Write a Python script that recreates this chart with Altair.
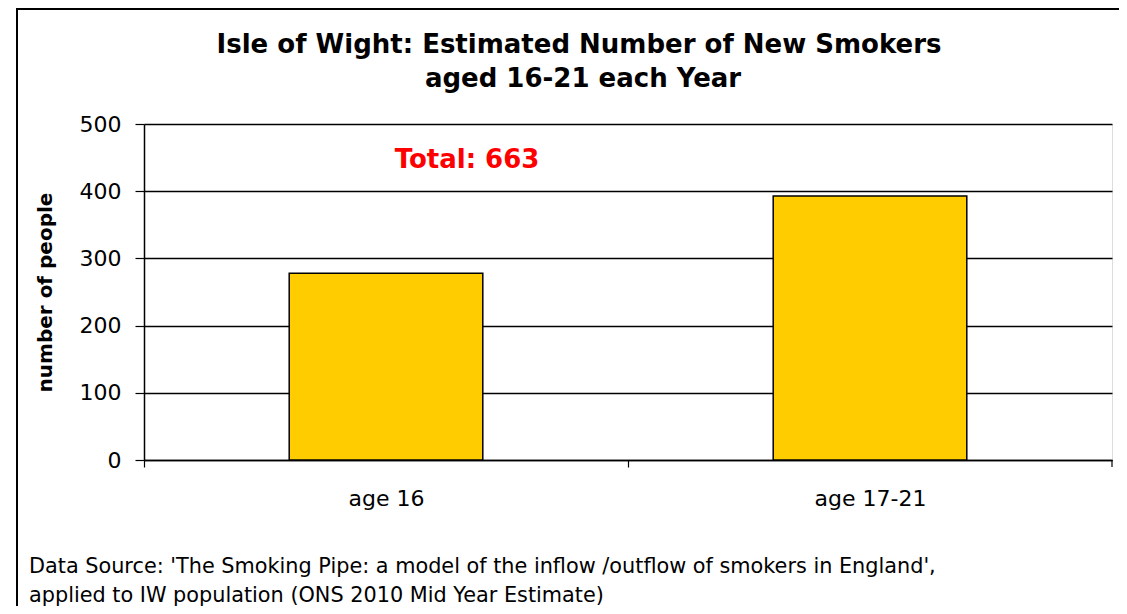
import altair as alt
import pandas as pd

categories = ["age 16", "age 17-21"]
values = [278, 393]
y_ticks = [0, 100, 200, 300, 400, 500]
title_lines = ["Isle of Wight: Estimated Number of New Smokers", "aged 16-21 each Year"]
total_label = "Total: 663"
source_lines = [
    "Data Source: 'The Smoking Pipe: a model of the inflow /outflow  of smokers in England',",
    "applied to IW population (ONS 2010 Mid Year Estimate)",
]

df = pd.DataFrame({"category": categories, "value": values})
one = pd.DataFrame({"a": [0]})

W, H = 968, 336
STEP = W / 2

bars = alt.Chart(df).mark_bar(color="#FFCC00", stroke="black", strokeWidth=1.5).encode(
    x=alt.X("category:N", sort=categories,
            scale=alt.Scale(paddingInner=0.6, paddingOuter=0.3),
            axis=alt.Axis(title=None, labelAngle=0, labelFont="DejaVu Sans", labelFontSize=22,
                          labelColor="black", labelPadding=21, tickOffset=-STEP / 2,
                          labelOffset=STEP / 2, tickSize=7,
                          tickColor="black", domainColor="black", domainWidth=1.5, tickWidth=1.2,
                          grid=False)),
    y=alt.Y("value:Q", scale=alt.Scale(domain=[0, 500], nice=False),
            axis=alt.Axis(values=y_ticks, title="number of people", titleFont="DejaVu Sans",
                          titleFontWeight="bold", titleFontSize=20, titleColor="black",
                          titlePadding=24, labelFont="DejaVu Sans", labelFontSize=22,
                          labelColor="black", labelPadding=14, tickSize=9, tickColor="black",
                          tickWidth=1.2, domainColor="black", domainWidth=1.5,
                          grid=True, gridColor="black", gridWidth=1.3)),
)

end_tick = alt.Chart(one).mark_rule(color="black", strokeWidth=1.2).encode(
    x=alt.value(W), y=alt.value(H), y2=alt.value(H + 7)
)

frame = alt.Chart(one).mark_rect(fill=None, stroke="black", strokeWidth=2).encode(
    x=alt.value(-127), x2=alt.value(1000), y=alt.value(-115), y2=alt.value(510)
)

t1 = alt.Chart(one).mark_text(font="DejaVu Sans", fontWeight="bold", fontSize=26,
                              align="center", baseline="alphabetic", color="black").encode(
    x=alt.value(435), y=alt.value(-71), text=alt.value(title_lines[0]))
t2 = alt.Chart(one).mark_text(font="DejaVu Sans", fontWeight="bold", fontSize=26,
                              align="center", baseline="alphabetic", color="black").encode(
    x=alt.value(439), y=alt.value(-37), text=alt.value(title_lines[1]))

total = alt.Chart(one).mark_text(font="DejaVu Sans", fontWeight="bold", fontSize=26,
                                 align="center", baseline="alphabetic", color="#FF0000").encode(
    x=alt.value(323), y=alt.value(44), text=alt.value(total_label))

s1 = alt.Chart(one).mark_text(font="DejaVu Sans", fontSize=20.8, align="left",
                              baseline="alphabetic", color="black").encode(
    x=alt.value(-115), y=alt.value(449), text=alt.value(source_lines[0]))
s2 = alt.Chart(one).mark_text(font="DejaVu Sans", fontSize=20.8, align="left",
                              baseline="alphabetic", color="black").encode(
    x=alt.value(-115), y=alt.value(478), text=alt.value(source_lines[1]))

chart = alt.layer(frame, bars, end_tick, t1, t2, total, s1, s2).properties(
    width=W, height=H,
    autosize=alt.AutoSizeParams(type="none"),
    padding={"left": 136, "top": 116, "right": 7, "bottom": 146},
).configure_view(stroke="#808080", strokeWidth=2).configure(background="white")

chart.save("out.html", embed_options={"renderer": "svg", "actions": False})
